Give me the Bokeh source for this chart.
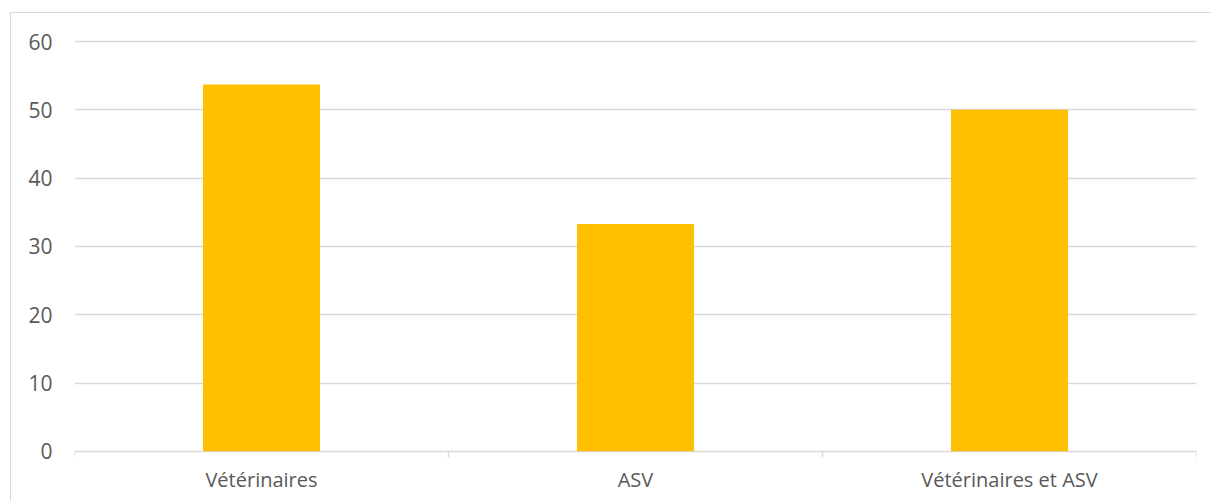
from bokeh.plotting import figure
from bokeh.models import Range1d, FactorRange, ColumnDataSource, FixedTicker
from bokeh.embed import file_html
from bokeh.resources import INLINE

# Data
categories = ["Vétérinaires", "ASV", "Vétérinaires et ASV"]
values = [53.7, 33.3, 50.0]
y_ticks = [0, 10, 20, 30, 40, 50, 60]

BAR_COLOR = "#FFC000"
GRID_COLOR = "#d9d9d9"
TEXT_COLOR = "#595959"
FONT = "Open Sans"

src = ColumnDataSource(dict(cat=categories, val=values))

p = figure(
    width=1201, height=489,
    x_range=FactorRange(*categories, range_padding=0),
    y_range=Range1d(-0.9, 60.3),
    output_backend="svg", toolbar_location=None,
    min_border_left=63, min_border_right=16,
    min_border_top=26, min_border_bottom=45,
)
p.styles = {
    "margin-left": "10px", "margin-top": "12px",
    "border-left": "1px solid #d9d9d9", "border-top": "1px solid #d9d9d9",
}
p.outline_line_color = None
p.background_fill_color = "white"
p.border_fill_color = "white"

p.vbar(x="cat", top="val", width=0.313, source=src, fill_color=BAR_COLOR, line_color=None)

# category boundary ticks on the x axis
bounds = list(range(len(categories) + 1))
p.segment(x0=bounds, y0=[0] * len(bounds), x1=bounds, y1=[-0.9] * len(bounds),
          line_color=GRID_COLOR, line_width=1.5)

# grid
p.xgrid.grid_line_color = None
p.ygrid.grid_line_color = GRID_COLOR
p.ygrid.grid_line_width = 1.3
p.yaxis.ticker = FixedTicker(ticks=y_ticks)

# y axis
p.yaxis.axis_line_color = None
p.yaxis.major_tick_line_color = None
p.yaxis.minor_tick_line_color = None
p.yaxis.major_tick_out = 0
p.yaxis.major_tick_in = 0
p.yaxis.major_label_standoff = 22
p.yaxis.major_label_text_font = FONT
p.yaxis.major_label_text_font_size = "21px"
p.yaxis.major_label_text_color = TEXT_COLOR

# x axis
p.xaxis.axis_line_color = None
p.xaxis.major_tick_line_color = None
p.xaxis.major_tick_out = 0
p.xaxis.major_tick_in = 0
p.xaxis.major_label_standoff = 8
p.xaxis.major_label_text_font = FONT
p.xaxis.major_label_text_font_size = "20px"
p.xaxis.major_label_text_color = TEXT_COLOR

html = file_html(p, INLINE)
html = html.replace("<body>", '<body style="margin:0;padding:0;overflow:hidden">')
open("out.html", "w").write(html)
